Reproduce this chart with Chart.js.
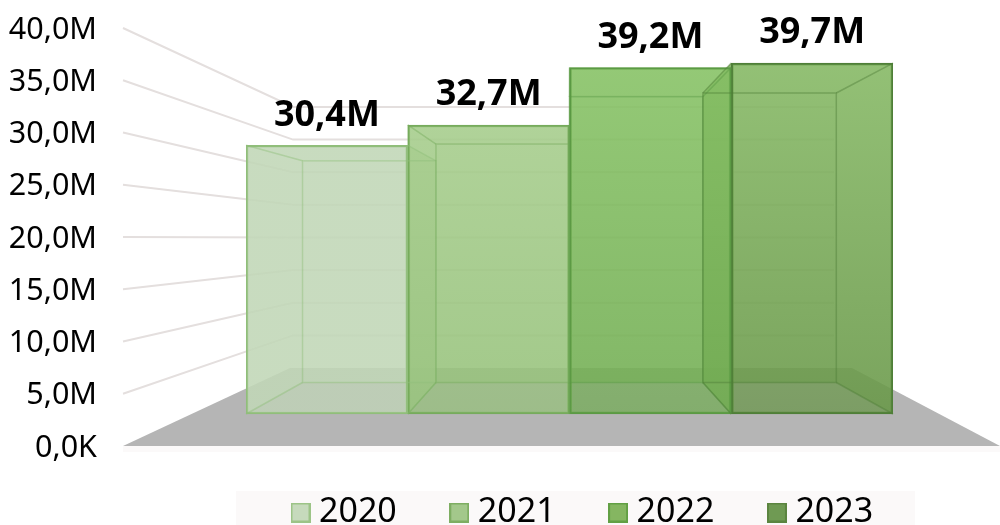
<!DOCTYPE html>
<html>
<head>
<meta charset="utf-8">
<style>
  html, body { margin: 0; padding: 0; background: #fff; }
  #wrap { width: 1000px; height: 525px; }
</style>
<script src="https://cdn.jsdelivr.net/npm/chart.js@4"></script>
</head>
<body>
<div id="wrap"><canvas id="chart" width="1000" height="525"></canvas></div>
<script>
// Values in millions, one bar per year
const years = ["2020", "2021", "2022", "2023"];
const values = [30.4, 32.7, 39.2, 39.7];
const valueLabels = ["30,4M", "32,7M", "39,2M", "39,7M"];
const tickStep = 5;
const tickMax = 40;

// Fill and edge colours per year
const fillTop = ["rgba(193,215,183,0.7)", "rgba(167,206,141,0.7)", "rgba(136,196,102,0.7)", "rgba(136,188,102,0.7)"];
const fillBottom = ["rgba(193,215,183,0.7)", "rgba(147,192,119,0.7)", "rgba(110,170,79,0.7)", "rgba(100,147,67,0.7)"];
const faceColors = ["rgba(193,215,183,0.6)", "rgba(160,200,133,0.6)", "rgba(125,185,92,0.6)", "rgba(120,170,88,0.6)"];
const edgeColors = ["#90be7a", "#76ab5c", "#5b9a44", "#4f7f38"];
const swatchFills = ["#c6dabc", "#a3c88b", "#85b661", "#6f9a53"];
const swatchEdges = ["#9cc487", "#7eae62", "#62a044", "#5b8540"];

// Perspective of the box: where the edges converge and how far back each plane sits
const vanishX = 569, vanishY = 234, depth = 0.825;
const font = '"Noto Sans", "Open Sans", sans-serif';

function quad(ctx, pts) {
    ctx.beginPath();
    pts.forEach((p, i) => i ? ctx.lineTo(p[0], p[1]) : ctx.moveTo(p[0], p[1]));
    ctx.closePath();
}

// Front and back corners of one box, from its bar element
function boxOf(chart, i) {
    const bar = chart.getDatasetMeta(i).data[0];
    const left = bar.x - bar.width / 2, right = bar.x + bar.width / 2;
    return {
        left, right, top: bar.y, base: bar.base,
        bl: vanishX + (left - vanishX) * depth,
        br: vanishX + (right - vanishX) * depth,
        bt: vanishY + (bar.y - vanishY) * depth,
        bb: vanishY + (bar.base - vanishY) * depth
    };
}

// Small square used as the legend marker
function swatch(fill, edge) {
    const c = document.createElement("canvas");
    c.width = 20; c.height = 20;
    const g = c.getContext("2d");
    g.fillStyle = fill; g.fillRect(0, 0, 20, 20);
    g.strokeStyle = edge; g.lineWidth = 2; g.strokeRect(1, 1, 18, 18);
    return c;
}

function barGradient(context, i) {
    const { chart } = context;
    if (!chart.chartArea) return fillTop[i];
    const scale = chart.scales.yFront;
    const g = chart.ctx.createLinearGradient(0, scale.getPixelForValue(values[i]), 0, scale.getPixelForValue(0));
    g.addColorStop(0, fillTop[i]);
    g.addColorStop(1, fillBottom[i]);
    return g;
}

// Floor, walls, and the inner faces of each box
const scenePlugin = {
    id: "scene",
    afterLayout(chart) {
        // legend sits in its own band under the floor
        const legend = chart.legend;
        legend.left = 238;
        legend.right = 1000;
        legend.top = 434.5;
        legend.bottom = 525;
    },
    beforeDraw(chart) {
        const { ctx } = chart;
        ctx.save();
        ctx.fillStyle = "#fbf9f9";
        ctx.fillRect(123, 446, 877, 6);
        ctx.fillRect(236, 491, 679, 34);
        ctx.restore();
    },
    beforeDatasetsDraw(chart) {
        const { ctx, scales } = chart;
        const axis = scales.y, back = scales.yBack;
        const y0 = axis.getPixelForValue(0), yb0 = back.getPixelForValue(0);
        ctx.save();

        // floor
        ctx.fillStyle = "#b5b5b5";
        quad(ctx, [[123, y0], [1000, y0], [852, yb0], [290, yb0]]);
        ctx.fill();

        // grid lines run from the axis up the side wall, then across the back
        ctx.strokeStyle = "#e4dfde";
        ctx.lineWidth = 2;
        for (let v = tickStep; v <= tickMax; v += tickStep) {
            ctx.beginPath();
            ctx.moveTo(123, axis.getPixelForValue(v));
            ctx.lineTo(293, back.getPixelForValue(v));
            ctx.lineTo(834, back.getPixelForValue(v));
            ctx.stroke();
        }

        // inner faces, drawn before the translucent fronts
        values.forEach((value, i) => {
            const b = boxOf(chart, i);
            ctx.fillStyle = faceColors[i];
            ctx.fillRect(b.bl, b.bt, b.br - b.bl, b.bb - b.bt);
            [
                [[b.left, b.top], [b.bl, b.bt], [b.bl, b.bb], [b.left, b.base]],
                [[b.right, b.top], [b.br, b.bt], [b.br, b.bb], [b.right, b.base]],
                [[b.left, b.top], [b.right, b.top], [b.br, b.bt], [b.bl, b.bt]]
            ].forEach(face => {
                quad(ctx, face);
                ctx.fill();
            });
        });
        ctx.restore();
    },
    afterDatasetsDraw(chart) {
        const { ctx } = chart;
        ctx.save();

        // inner box edges show through the fronts
        ctx.lineWidth = 1.5;
        values.forEach((value, i) => {
            const b = boxOf(chart, i);
            ctx.strokeStyle = edgeColors[i] + "77";
            ctx.strokeRect(b.bl, b.bt, b.br - b.bl, b.bb - b.bt);
            ctx.beginPath();
            ctx.moveTo(b.left, b.top); ctx.lineTo(b.bl, b.bt);
            ctx.moveTo(b.left, b.base); ctx.lineTo(b.bl, b.bb);
            ctx.moveTo(b.right, b.top); ctx.lineTo(b.br, b.bt);
            ctx.moveTo(b.right, b.base); ctx.lineTo(b.br, b.bb);
            ctx.stroke();
        });

        // value labels above the boxes
        ctx.font = "bold 36px " + font;
        ctx.fillStyle = "#000";
        ctx.textAlign = "center";
        ctx.textBaseline = "middle";
        values.forEach((value, i) => {
            const bar = chart.getDatasetMeta(i).data[0];
            ctx.fillText(valueLabels[i], bar.x, bar.y - 30);
        });
        ctx.restore();
    }
};

new Chart(document.getElementById("chart"), {
    type: "bar",
    data: {
        labels: [""],
        datasets: years.map((year, i) => ({
            label: year,
            data: [values[i]],
            yAxisID: "yFront",
            backgroundColor: ctx => barGradient(ctx, i),
            borderColor: edgeColors[i],
            borderWidth: 2,
            borderSkipped: false,
            barPercentage: 1,
            categoryPercentage: 1
        }))
    },
    options: {
        responsive: false,
        animation: false,
        layout: { padding: { top: 28, right: 107, bottom: 0, left: 0 } },
        scales: {
            x: { display: false },
            y: {
                position: "left",
                min: 0,
                max: tickMax,
                // tick length only pushes the labels out to the left, no marks are drawn
                grid: { display: false, drawTicks: true, tickLength: 149 },
                border: { display: false },
                afterFit(scale) { scale.width = 246; },
                ticks: {
                    stepSize: tickStep,
                    padding: 0,
                    labelOffset: 2,
                    autoSkip: false,
                    color: "#000",
                    font: { family: font, size: 30.5 },
                    callback: v => v === 0 ? "0,0K" : v.toFixed(1).replace(".", ",") + "M"
                }
            },
            // front plane of the boxes
            yFront: { display: false, min: -3.62, max: 43.67 },
            // back wall behind the boxes
            yBack: { display: false, min: -11.95, max: 52.1 }
        },
        plugins: {
            tooltip: { enabled: false },
            legend: {
                position: "bottom",
                align: "start",
                maxHeight: 79,
                labels: {
                    usePointStyle: true,
                    pointStyleWidth: 3,
                    padding: 61,
                    color: "#000",
                    font: { family: font, size: 34 },
                    generateLabels: () => years.map((year, i) => ({
                        text: year,
                        datasetIndex: i,
                        pointStyle: swatch(swatchFills[i], swatchEdges[i])
                    }))
                }
            }
        }
    },
    plugins: [scenePlugin]
});
</script>
</body>
</html>
